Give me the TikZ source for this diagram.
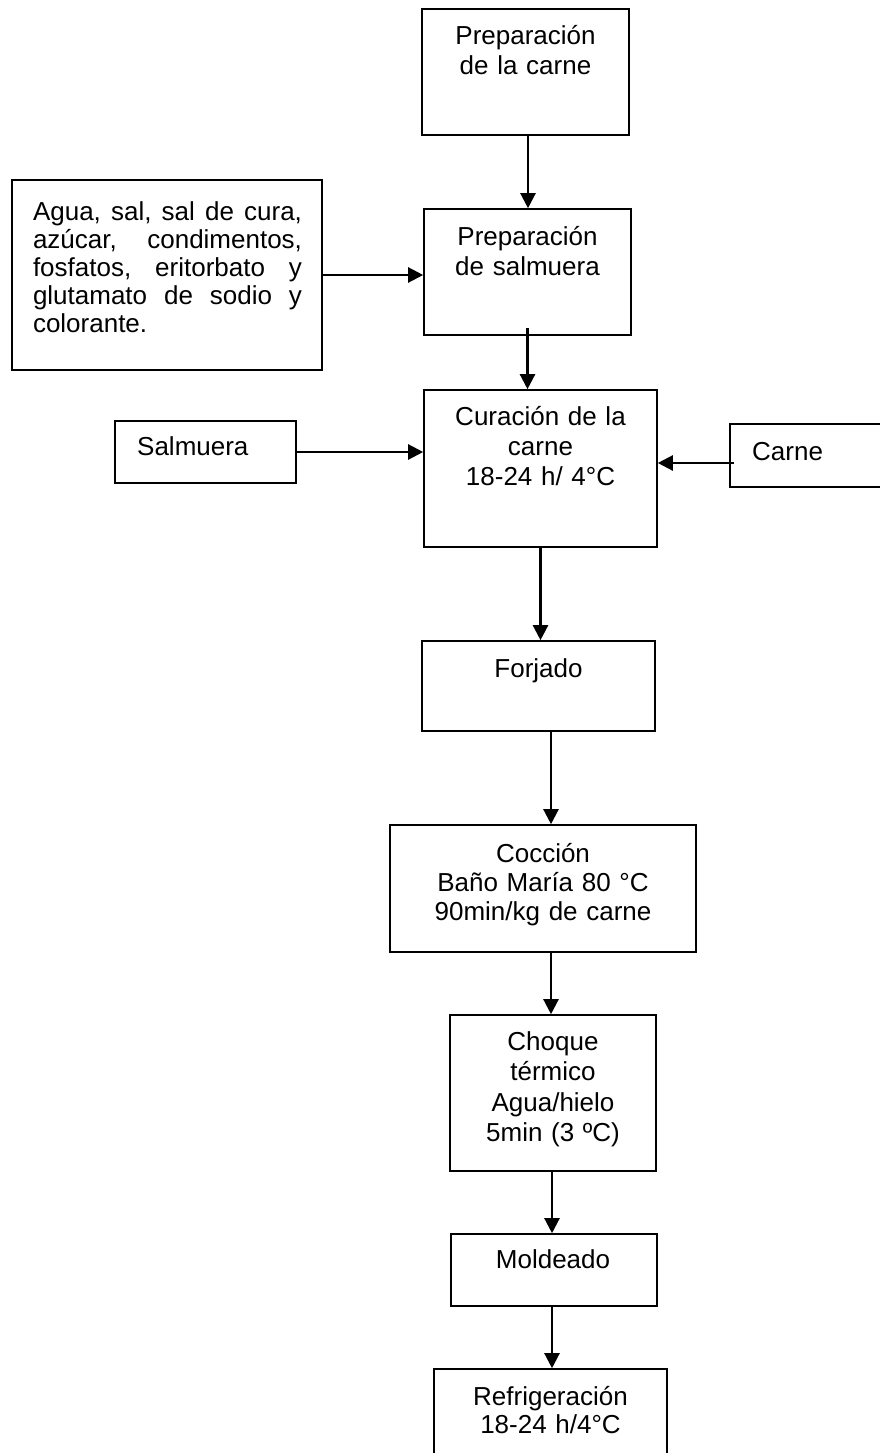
\documentclass[tikz,border=0pt]{standalone}
\usepackage{fontspec}
\setmainfont{Liberation Sans}
\usetikzlibrary{arrows.meta}
% one justified line of the ingredient list
\newcommand{\jline}[1]{\leavevmode\hbox to 269pt{#1}}
\begin{document}
\begin{tikzpicture}[x=1pt,y=-1pt,
  box/.style={draw=black, line width=1.6pt, inner sep=0pt},
  txt/.style={inner sep=0pt, anchor=base, align=center, text width=#1,
    font=\fontsize{26}{30}\selectfont},
  txt/.default=230pt,
  side/.style={inner sep=0pt, anchor=base west, font=\fontsize{26}{30}\selectfont},
  flow/.style={line width=2.3pt, -{Triangle[width=15pt,length=15pt]}}]
\useasboundingbox (0,0) rectangle (880,1453);
\fill[white] (0,0) rectangle (880,1453);
\clip (0,0) rectangle (880,1453);

% process boxes
\node[box, minimum width=207, minimum height=126] (prep) at (525.5,72) {};
\node[box, minimum width=207, minimum height=126] (salm) at (527.5,272) {};
\node[box, minimum width=310, minimum height=190] (ingr) at (167,275) {};
\node[box, minimum width=233, minimum height=157] (cura) at (540.5,468.5) {};
\node[box, minimum width=181, minimum height=62] (brine) at (205.5,452) {};
\node[box, minimum width=175, minimum height=63] (meat) at (817.5,455.5) {};
\node[box, minimum width=233, minimum height=90] (forj) at (538.5,686) {};
\node[box, minimum width=306, minimum height=127] (cocc) at (543,888.5) {};
\node[box, minimum width=206, minimum height=156] (choq) at (553,1093) {};
\node[box, minimum width=206, minimum height=72] (mold) at (554,1270) {};
\node[box, minimum width=233, minimum height=112] (refr) at (550.5,1425) {};

% labels
\node[txt] (tprep) at (525.5,45) {Preparación\\de la carne};
\node[txt] (tsalm) at (527.5,245) {Preparación\\de salmuera};
\node[txt=269pt, align=left, font=\fontsize{26}{28}\selectfont] (tingr) at (167.5,220)
  {\jline{Agua,\hfill sal,\hfill sal\hfill de\hfill cura,}\\
   \jline{azúcar,\hfill condimentos,}\\
   \jline{fosfatos,\hfill eritorbato\hfill y}\\
   \jline{glutamato\hfill de\hfill sodio\hfill y}\\
   colorante.};
\node[txt] (tcura) at (540.5,425) {Curación de la\\carne\\18-24 h/ 4°C};
\node[side] (tbrine) at (137,455) {Salmuera};
\node[side] (tmeat) at (752,460) {Carne};
\node[txt] (tforj) at (538.5,677) {Forjado};
\node[txt=300pt, font=\fontsize{26}{29}\selectfont] (tcocc) at (543,862)
  {Cocción\\Baño María 80 °C\\90min/kg de carne};
\node[txt, font=\fontsize{26}{30.5}\selectfont] (tchoq) at (553,1050)
  {Choque\\térmico\\Agua/hielo\\5min (3 ºC)};
\node[txt] (tmold) at (553,1268) {Moldeado};
\node[txt, font=\fontsize{26}{28}\selectfont] (trefr) at (550.5,1405)
  {Refrigeración\\18-24 h/4°C};

% connectors
\draw[flow] ([xshift=2.5pt]prep.south) -- ([xshift=2.5pt]prep.south |- salm.north);
\draw[flow] ([yshift=8pt]salm.south) -- (salm.south |- cura.north);
\draw[flow] (ingr.east) -- (ingr.east -| salm.west);
\draw[flow] (brine.east) -- (brine.east -| cura.west);
\draw[flow] ([xshift=5pt,yshift=-7.5pt]meat.west) -- ([yshift=-7.5pt]meat.west -| cura.east);
\draw[flow] (cura.south) -- (cura.south |- forj.north);
\draw[flow] ([xshift=12.5pt]forj.south) -- ([xshift=12.5pt]forj.south |- cocc.north);
\draw[flow] ([xshift=8pt]cocc.south) -- ([xshift=8pt]cocc.south |- choq.north);
\draw[flow] ([xshift=-1pt]choq.south) -- ([xshift=-1pt]choq.south |- mold.north);
\draw[flow] ([xshift=-2pt]mold.south) -- ([xshift=-2pt]mold.south |- refr.north);
\end{tikzpicture}
\end{document}
